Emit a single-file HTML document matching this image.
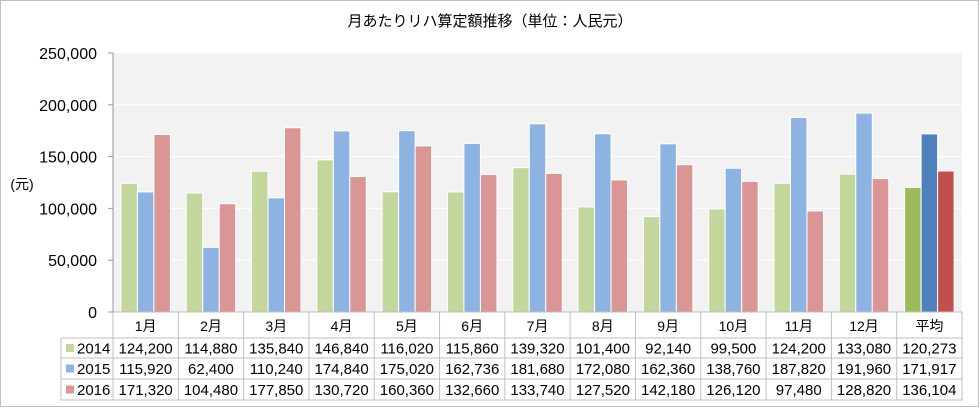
<!DOCTYPE html>
<html><head><meta charset="utf-8"><style>
body{margin:0;background:#fff}
svg{display:block;font-family:"Liberation Sans","Noto Sans CJK JP",sans-serif}
</style></head><body>
<svg id="c" width="980" height="408" viewBox="0 0 980 408">
<rect x="0.5" y="0.5" width="978" height="406" fill="#fff" stroke="#bfbfbf"/>
<text x="490" y="26" text-anchor="middle" font-size="15" fill="#000">月あたりリハ算定額推移（単位：人民元）</text>
<text x="22" y="189" text-anchor="middle" font-size="14" fill="#000">(元)</text>
<g id="plot"></g>
</svg>
<script>
const categories=["1月","2月","3月","4月","5月","6月","7月","8月","9月","10月","11月","12月","平均"];
const seriesNames=["2014","2015","2016"];
const s2014=[124200,114880,135840,146840,116020,115860,139320,101400,92140,99500,124200,133080,120273];
const s2015=[115920,62400,110240,174840,175020,162736,181680,172080,162360,138760,187820,191960,171917];
const s2016=[171320,104480,177850,130720,160360,132660,133740,127520,142180,126120,97480,128820,136104];
const yTicks=[0,50000,100000,150000,200000,250000];
const NS="http://www.w3.org/2000/svg";
const X0=113,X1=962,Y0=312,Y1=53,YMAX=250000;
const bw=(X1-X0)/categories.length;
const y=v=>Y0-(v/YMAX)*(Y0-Y1);
const xg=i=>X0+i*bw;
const g=document.getElementById('plot');
function mk(t,a,p){const e=document.createElementNS(NS,t);for(const k in a)e.setAttribute(k,a[k]);(p||g).appendChild(e);return e;}
const fmt=v=>v.toLocaleString('en-US');
const bg=mk('rect',{x:X0,y:Y1,width:X1-X0,height:Y0-Y1,fill:'#f2f2f2'});


yTicks.forEach(t=>{
  const yy=y(t);
  if(t>0){const l=mk('line',{x1:X0,x2:X1,y1:yy,y2:yy,stroke:'#fff','stroke-width':1});
  
  }
  const tk=mk('line',{x1:X0-5,x2:X0,y1:yy,y2:yy,stroke:'#999'});
  
  
  const tx=mk('text',{x:97,y:yy+6,'text-anchor':'end','font-size':16,fill:'#000'});
  tx.textContent=fmt(t);
  
  
});
const yax=mk('line',{x1:X0,x2:X0,y1:Y1,y2:Y0,stroke:'#999'});


const light=['#c3d69b','#8db3e2','#d99694'];
const dark=['#9bbb59','#4f81bd','#c0504d'];
const data=[s2014,s2015,s2016];
const barW=16.5,off=(bw-3*barW)/2;
categories.forEach((c,i)=>{
  data.forEach((s,k)=>{
    const avg=i===categories.length-1;
    const r=mk('rect',{x:xg(i)+off+k*barW,y:y(s[i]),width:barW,height:Y0-y(s[i]),fill:avg?dark[k]:light[k],stroke:'#fff','stroke-width':1});
    
    
  });
});
// table
const rows=[312,338,358,379,400];
const TL=61;
const tl=(x1,y1,x2,y2)=>{const l=mk('line',{x1,y1,x2,y2,stroke:'#bfbfbf'});};
tl(X0,rows[0],X1,rows[0]);
for(let r=1;r<rows.length;r++)tl(TL,rows[r],X1,rows[r]);
tl(TL,rows[1],TL,rows[4]);
for(let i=0;i<=categories.length;i++)tl(xg(i),rows[0],xg(i),rows[4]);
categories.forEach((c,i)=>{
  const t=mk('text',{x:xg(i)+bw/2,y:331,'text-anchor':'middle','font-size':14,fill:'#000'});
  t.textContent=c;
  
  
});
data.forEach((s,k)=>{
  const cy=(rows[k+1]+rows[k+2])/2;
  const sw=mk('rect',{x:TL+5,y:cy-4,width:8,height:8,fill:light[k]});
  
  
  const lt=mk('text',{x:TL+16,y:cy+5.5,'font-size':15,fill:'#000'});
  lt.textContent=seriesNames[k];
  
  
  s.forEach((v,i)=>{
    const t=mk('text',{x:xg(i)+bw/2,y:cy+5.5,'text-anchor':'middle','font-size':15,fill:'#000'});
    t.textContent=fmt(v);
    
    
  });
});
</script>
</body></html>
